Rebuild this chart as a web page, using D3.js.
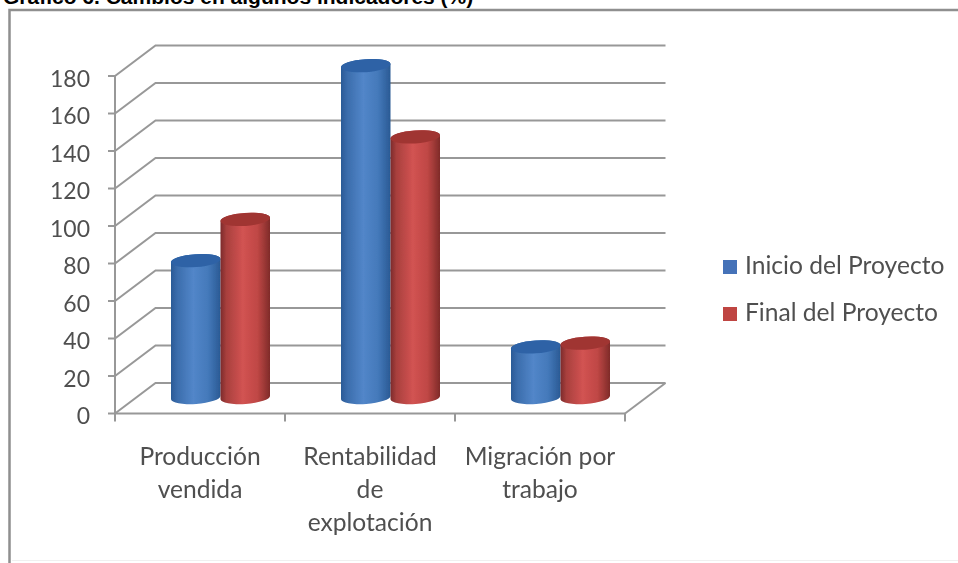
<!DOCTYPE html>
<html><head><meta charset="utf-8">
<script src="https://cdn.jsdelivr.net/npm/d3@7"></script>
<style>html,body{margin:0;padding:0;background:#fff}svg{display:block}</style>
</head><body>
<script>
const titleText = "Gráfico 6. Cambios en algunos indicadores (%)";
const categories = [["Producción","vendida"],["Rentabilidad","de","explotación"],["Migración por","trabajo"]];
const seriesNames = ["Inicio del Proyecto","Final del Proyecto"];
const inicioValues = [73,177,27];
const finalValues = [95,139,29];
const yTicks = [0,20,40,60,80,100,120,140,160,180];

const W=958,H=563;
const svg=d3.select("body").append("svg").attr("width",W).attr("height",H);
const defs=svg.append("defs");
defs.append("filter").attr("id","soft").attr("x","-5%").attr("y","-5%").attr("width","110%").attr("height","110%")
  .append("feGaussianBlur").attr("stdDeviation",0.7);
const grad=(id,stops)=>{const g=defs.append("linearGradient").attr("id",id);
  stops.forEach(([o,c])=>g.append("stop").attr("offset",o).attr("stop-color",c));};
grad("gBlue",[[0,"#2a5a96"],[.12,"#3a6cab"],[.45,"#5286c9"],[.75,"#4479ba"],[1,"#2a5a94"]]);
grad("gRed",[[0,"#7c2a2a"],[.12,"#a83f3d"],[.45,"#d25352"],[.75,"#bf4745"],[1,"#7f2b29"]]);
const gBlueTop="#2d62a6",gRedTop="#a03533";
const legendColors=["#4472b8","#bf4542"];

svg.append("text").attr("x",3).attr("y",4).text(titleText)
  .attr("font-family","'Liberation Sans',Arial,sans-serif").attr("font-weight","bold").attr("font-size",21).attr("fill","#000");
const g=svg.append("g").attr("filter","url(#soft)");
g.append("path").attr("d",`M${W},10H9.5V${H}`).attr("fill","none").attr("stroke","#8f8f8f").attr("stroke-width",2.5);
g.append("path").attr("d",`M12,560.5H${W}`).attr("stroke","#f0f0f0").attr("stroke-width",1);

const y=d3.scaleLinear().domain([0,180]).range([413.5,76]);
const x=d3.scaleBand().domain(d3.range(categories.length)).range([115,625]);
const inner=d3.scaleBand().domain(d3.range(seriesNames.length)).range([56,155]);
const depth={x:40.5,y:-30.5};
const midY=-16;
const lineCol="#989898";
const textCol="#505050";

yTicks.forEach(t=>{
  const y0=y(t);
  g.append("path").attr("d",`M${x.range()[0]},${y0}L${x.range()[0]+depth.x},${y0+depth.y}H${x.range()[1]+depth.x}`)
   .attr("fill","none").attr("stroke",lineCol).attr("stroke-width",2);
  g.append("line").attr("x1",x.range()[0]-7).attr("x2",x.range()[0]).attr("y1",y0).attr("y2",y0).attr("stroke",lineCol).attr("stroke-width",2);
  g.append("text").attr("x",90).attr("y",y0+10.5).attr("text-anchor","end").text(t)
   .attr("font-family","Lato").attr("font-size",23).attr("fill",textCol);
});
g.append("line").attr("x1",115).attr("x2",115).attr("y1",y(180)).attr("y2",y(0)+5).attr("stroke",lineCol).attr("stroke-width",2);
g.append("line").attr("x1",x.range()[0]).attr("x2",x.range()[1]).attr("y1",y(0)).attr("y2",y(0)).attr("stroke",lineCol).attr("stroke-width",2.2);
g.append("line").attr("x1",x.range()[1]).attr("x2",x.range()[1]+depth.x).attr("y1",y(0)).attr("y2",y(0)+depth.y).attr("stroke",lineCol).attr("stroke-width",2);
d3.range(categories.length+1).forEach(i=>{
  const tx=x.range()[0]+i*x.bandwidth();
  g.append("line").attr("x1",tx).attr("x2",tx).attr("y1",y(0)).attr("y2",y(0)+8).attr("stroke",lineCol).attr("stroke-width",2);
});

const ry=6.5,rot=-4;
const draw=(vals,si,fill,top)=>{
  vals.forEach((v,ci)=>{
    const x0=x(ci)+inner(si),w=inner.bandwidth(),rx=w/2,cx=x0+rx;
    const yT=y(v)+midY,yB=y(0)+midY;
    const dy=rx*Math.tan(rot*Math.PI/180);
    g.append("path").attr("d",
      `M${cx-rx},${yT-dy}A${rx},${ry} ${rot} 0 1 ${cx+rx},${yT+dy}L${cx+rx},${yB+dy}A${rx},${ry} ${rot} 0 1 ${cx-rx},${yB-dy}Z`)
      .attr("fill",`url(#${fill})`);
    g.append("path").attr("d",
      `M${cx-rx},${yT-dy}A${rx},${ry} ${rot} 0 1 ${cx+rx},${yT+dy}A${rx},${ry} ${rot} 0 1 ${cx-rx},${yT-dy}Z`)
      .attr("fill",top);
  });
};
draw(inicioValues,0,"gBlue",gBlueTop);
draw(finalValues,1,"gRed",gRedTop);

categories.forEach((lines,i)=>{
  lines.forEach((s,j)=>{
    g.append("text").attr("x",x(i)+x.bandwidth()/2).attr("y",465+j*33).attr("text-anchor","middle")
     .text(s).attr("font-family","Lato").attr("font-size",24.6).attr("fill",textCol);
  });
});

seriesNames.forEach((s,i)=>{
  const ly=260+i*47;
  g.append("rect").attr("x",723).attr("y",ly).attr("width",14).attr("height",14).attr("fill",legendColors[i]);
  g.append("text").attr("x",745).attr("y",ly+14).text(s)
   .attr("font-family","Lato").attr("font-size",24.6).attr("fill",textCol);
});
</script>
</body></html>
